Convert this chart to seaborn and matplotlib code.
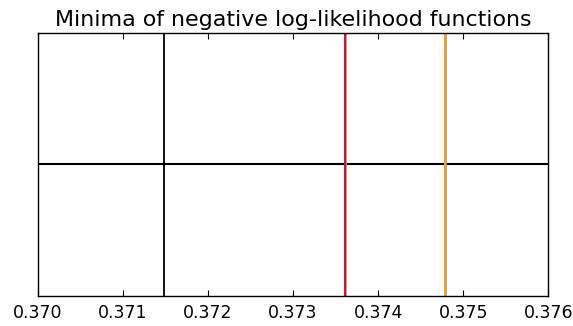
import numpy as np
import matplotlib
matplotlib.use("Agg")
import matplotlib.pyplot as plt
import seaborn as sns

# minima positions
minima = [0.37148, 0.37361, 0.37478]
colors = ["black", "#e8001c", "orange"]
x_ticks = [0.370, 0.371, 0.372, 0.373, 0.374, 0.375, 0.376]
hline_y = 0.0

sns.set_theme(style="white", rc={
    "axes.edgecolor": "black",
    "axes.linewidth": 1.0,
    "xtick.direction": "in",
    "xtick.top": True,
    "xtick.bottom": True,
    "xtick.major.size": 4,
    "xtick.major.width": 0.8,
    "xtick.color": "black",
    "text.color": "black",
    "axes.titlecolor": "black",
})
plt.rcParams['font.family'] = ['DejaVu Sans']

fig, ax = plt.subplots(figsize=(5.73, 3.26), dpi=100)

ax.axhline(hline_y, color="black", lw=1.5)
for m, c in zip(minima, colors):
    if c != "black":
        # faint dark edge under the coloured line
        ax.axvline(m, color="#9a9a9a", lw=2.0)
    ax.axvline(m, color=c, lw=1.3)

ax.set_xlim(x_ticks[0], x_ticks[-1])
ax.set_ylim(-1, 1)
ax.set_xticks(x_ticks)
ax.set_xticklabels([f"{t:.3f}" for t in x_ticks], fontsize=12.5)
ax.set_yticks([])
ax.tick_params(axis="x", pad=6)
ax.set_title("Minima of negative log-likelihood functions", fontsize=15.9, pad=5)

fig.subplots_adjust(left=0.066, right=0.957, top=0.899, bottom=0.092)
fig.savefig("out.png", dpi=100)
plt.close(fig)
